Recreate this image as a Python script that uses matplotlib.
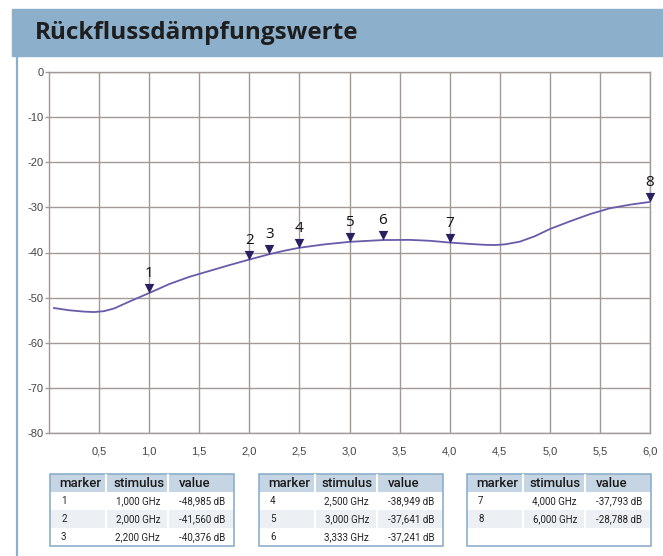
import numpy as np
import matplotlib.pyplot as plt
from matplotlib.patches import Rectangle
from matplotlib.lines import Line2D

W, H = 663, 556

# measured return loss trace (GHz, dB)
freq = [0.05, 0.2, 0.35, 0.45, 0.55, 0.65, 0.8, 1.0, 1.2, 1.4, 1.6, 1.8, 2.0,
        2.2, 2.35, 2.5, 2.75, 3.0, 3.333, 3.6, 3.8, 4.0, 4.2, 4.35, 4.45,
        4.55, 4.7, 4.85, 5.0, 5.2, 5.4, 5.6, 5.8, 6.0]
rl = [-52.3, -52.8, -53.1, -53.2, -53.0, -52.4, -50.9, -48.985, -47.0, -45.4,
      -44.1, -42.8, -41.56, -40.376, -39.6, -38.949, -38.2, -37.641, -37.241,
      -37.2, -37.4, -37.793, -38.1, -38.3, -38.35, -38.2, -37.6, -36.4, -34.8,
      -33.1, -31.5, -30.2, -29.4, -28.788]

marker_ids = [1, 2, 3, 4, 5, 6, 7, 8]
marker_ghz = [1.0, 2.0, 2.2, 2.5, 3.0, 3.333, 4.0, 6.0]
marker_db = [-48.985, -41.560, -40.376, -38.949, -37.641, -37.241, -37.793, -28.788]

x_ticks = np.arange(0.5, 6.01, 0.5)
y_ticks = np.arange(0, -81, -10)

BANNER = '#8cafcc'
GRID = '#a39a97'
LINE = '#6a5aaa'
NAVY = '#2a1f60'
HEAD = '#c6d5e3'
ALT = '#eceff3'


def comma(v, nd):
    return f'{v:.{nd}f}'.replace('.', ',')


fig = plt.figure(figsize=(W / 100, H / 100), dpi=100)

# title banner and left rule
fig.patches.append(Rectangle((12 / W, 1 - 56 / H), (W - 12) / W, 47 / H,
                             transform=fig.transFigure, color=BANNER, zorder=0))
fig.text(35 / W, 1 - 33 / H, 'Rückflussdämpfungswerte', fontsize=17.5,
         fontweight='bold', family='Open Sans', va='center', color='#1e1e1e')
fig.add_artist(Line2D([17 / W, 17 / W], [0, 1 - 56 / H], color=BANNER, lw=1.6))

ax = fig.add_axes([49 / W, 1 - 433 / H, 601 / W, 361 / H])
ax.plot(freq, rl, color=LINE, lw=1.3, zorder=2, solid_joinstyle='round')

tri = [(-0.5, 1.0), (0.5, 1.0), (0.0, 0.0), (-0.5, 1.0)]
ax.scatter(marker_ghz, marker_db, marker=tri, s=190, color=NAVY, zorder=3,
           clip_on=False, linewidths=0)
for i, x, y in zip(marker_ids, marker_ghz, marker_db):
    ax.annotate(str(i), (x, y), xytext=(0, 14), textcoords='offset points',
                ha='center', va='center', fontsize=11, family='Open Sans',
                color='#111111')

ax.set_xlim(0, 6)
ax.set_ylim(-80, 0)
ax.set_xticks(x_ticks)
ax.set_xticklabels([comma(t, 1) for t in x_ticks])
ax.set_yticks(y_ticks)
ax.set_yticklabels([str(t) for t in y_ticks])
ax.grid(True, color=GRID, lw=1.0)
ax.set_axisbelow(True)
for s in ax.spines.values():
    s.set_color(GRID)
    s.set_linewidth(1.0)
ax.tick_params(axis='x', length=0, pad=10, labelsize=8, labelcolor='#444444')
ax.tick_params(axis='y', length=3, width=1.0, color=GRID, pad=1,
               labelsize=8, labelcolor='#444444')
for lab in ax.get_xticklabels() + ax.get_yticklabels():
    lab.set_family('Liberation Sans')

# marker tables, three rows each
cols = [0, 56, 118, 184]
tables = [(50, [0, 1, 2]), (259, [3, 4, 5]), (467, [6, 7])]
tw, th = 184, 72
for left, rows in tables:
    tax = fig.add_axes([left / W, 1 - (474 + th) / H, tw / W, th / H])
    tax.set_xlim(0, tw)
    tax.set_ylim(th, 0)
    tax.axis('off')
    tax.add_patch(Rectangle((0, 0), tw, 18, color=HEAD, lw=0))
    tax.add_patch(Rectangle((0, 36), tw, 18, color=ALT, lw=0))
    for c in cols[1:-1]:
        tax.plot([c, c], [0, 54], color='white', lw=1.5)
    tax.add_patch(Rectangle((0, 0), tw, th, fill=False, ec=BANNER, lw=1.2,
                            clip_on=False))
    hkw = dict(fontsize=9.5, va='center', family='Roboto', fontweight='medium',
               color='#1a1a1a')
    tax.text(cols[0] + 9, 9.5, 'marker', ha='left', **hkw)
    tax.text(cols[1] + 7, 9.5, 'stimulus', ha='left', **hkw)
    tax.text(cols[2] + 11, 9.5, 'value', ha='left', **hkw)
    rkw = dict(fontsize=7, va='center', family='Roboto', color='#222222')
    for k, m in enumerate(rows):
        yc = 18 + 18 * k + 9
        tax.text(cols[0] + 11, yc, str(marker_ids[m]), ha='left', **rkw)
        tax.text(cols[2] - 8, yc, comma(marker_ghz[m], 3) + ' GHz', ha='right', **rkw)
        tax.text(cols[2] + 11, yc, comma(marker_db[m], 3) + ' dB', ha='left', **rkw)

fig.savefig('out.png', dpi=100)
